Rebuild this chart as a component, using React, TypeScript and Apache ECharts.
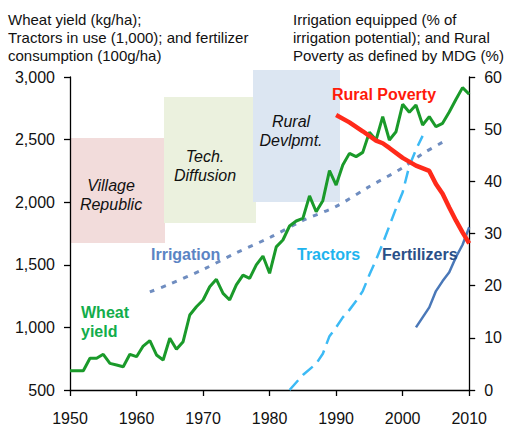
import React, { useEffect, useRef } from "react";
import * as echarts from "echarts";

const wheatYears = [1950,1951,1952,1953,1954,1955,1956,1957,1958,1959,1960,1961,1962,1963,1964,1965,1966,1967,1968,1969,1970,1971,1972,1973,1974,1975,1976,1977,1978,1979,1980,1981,1982,1983,1984,1985,1986,1987,1988,1989,1990,1991,1992,1993,1994,1995,1996,1997,1998,1999,2000,2001,2002,2003,2004,2005,2006,2007,2008,2009,2010];
const wheatYield = [654,654,654,753,753,785,713,700,686,785,766,851,894,780,740,913,825,886,1099,1165,1219,1325,1384,1272,1219,1339,1418,1392,1500,1570,1432,1643,1698,1810,1850,1871,2050,1924,2012,2252,2137,2297,2390,2364,2398,2558,2497,2684,2497,2563,2782,2718,2776,2617,2684,2603,2630,2720,2820,2915,2862];

const irrigationYears = [1962,1965,1970,1975,1980,1985,1990,1995,2000,2003,2006];
const irrigationPct = [18.8,20.3,23.1,26.3,29.2,32.5,35.2,39.0,42.6,45.3,47.5];

const tractorYears = [1983,1985,1987,1988,1989,1990,1991,1992,1993,1994,1995,1996,1997,1998,1999,2000,2001,2002,2003];
const tractorsInUse = [500,620,710,790,930,1000,1080,1140,1210,1290,1420,1540,1670,1810,1950,2080,2290,2420,2530];

const fertYears = [2002,2003,2004,2005,2006,2007,2008,2009,2010];
const fertConsumption = [1000,1080,1160,1290,1370,1440,1560,1660,1800];

const povertyYears = [1990,1992,1994,1996,1997,1998,2000,2002,2004,2005,2006,2007,2008,2009,2010];
const ruralPoverty = [52.7,51.3,49.6,47.8,47.3,46.4,44.5,43.0,42.0,39.5,37.6,35.0,32.5,30.2,28.1];

const pairs = (xs: number[], ys: number[]) => xs.map((x, i) => [x, ys[i]]);

const FONT = "Liberation Sans, Arial, sans-serif";

export default function App() {
  const ref = useRef<HTMLDivElement>(null);
  useEffect(() => {
    if (!ref.current) return;
    const chart = echarts.init(ref.current, null, { renderer: "svg" });
    const boxText = (x: number, y: number, lines: string) => ({
      type: "text", x, y, z: 1,
      style: { text: lines, font: `italic 16px ${FONT}`, fill: "#111", align: "center", verticalAlign: "middle", lineHeight: 19 },
    });
    const label = (x: number, y: number, text: string, color: string, size = 16, lh = 19) => ({
      type: "text", x, y, z: 5,
      style: { text, font: `bold ${size}px ${FONT}`, fill: color, align: "left", verticalAlign: "middle", lineHeight: lh },
    });
    chart.setOption({
      animation: false,
      textStyle: { fontFamily: FONT },
      grid: { left: 70, right: 32, top: 77, bottom: 43 },
      xAxis: {
        type: "value", min: 1950, max: 2010, interval: 10,
        axisLine: { show: true, lineStyle: { color: "#000", width: 1.3 } },
        axisTick: { show: true, length: 6, lineStyle: { color: "#000", width: 1.3 } },
        axisLabel: { margin: 20, fontSize: 16, color: "#111", formatter: (v: number) => String(v) },
        splitLine: { show: false },
      },
      yAxis: [
        {
          type: "value", min: 500, max: 3000, interval: 500, position: "left",
          axisLine: { show: true, lineStyle: { color: "#000", width: 1.3 } },
          axisTick: { show: true, length: 6, lineStyle: { color: "#000", width: 1.3 } },
          axisLabel: { margin: 15, fontSize: 16, color: "#111", formatter: (v: number) => v.toLocaleString("en-US") },
          splitLine: { show: false },
        },
        {
          type: "value", min: 0, max: 60, interval: 10, position: "right",
          axisLine: { show: true, lineStyle: { color: "#000", width: 1.3 } },
          axisTick: { show: true, length: 6, lineStyle: { color: "#000", width: 1.3 } },
          axisLabel: { margin: 15, fontSize: 16, color: "#111" },
          splitLine: { show: false },
        },
      ],
      graphic: [
        { type: "rect", z: 0, shape: { x: 71, y: 138, width: 94, height: 105 }, style: { fill: "#f2dcdb" } },
        { type: "rect", z: 0, shape: { x: 164, y: 97, width: 92, height: 126 }, style: { fill: "#ebf1de" } },
        { type: "rect", z: 0, shape: { x: 253, y: 70, width: 87, height: 132 }, style: { fill: "#dce6f2" } },
        boxText(111, 195, "Village\nRepublic"),
        boxText(205, 166, "Tech.\nDiffusion"),
        boxText(291, 131, "Rural\nDevlpmt."),
        {
          type: "text", x: 8, y: 10, z: 5,
          style: { text: "Wheat yield (kg/ha);\nTractors in use (1,000); and fertilizer\nconsumption (100g/ha)", font: `15px ${FONT}`, fill: "#111", lineHeight: 18, align: "left", verticalAlign: "top" },
        },
        {
          type: "text", x: 293, y: 10, z: 5,
          style: { text: "Irrigation equipped (% of\nirrigation potential); and Rural\nPoverty as defined by MDG (%)", font: `15px ${FONT}`, fill: "#111", lineHeight: 18, align: "left", verticalAlign: "top" },
        },
        label(332, 94, "Rural Poverty", "#ff1a0a"),
        label(151, 254, "Irrigation", "#5b84c4"),
        label(297, 254, "Tractors", "#1fb4ee"),
        label(382, 254, "Fertilizers", "#2a5088"),
        label(81, 322, "Wheat\nyield", "#12ad4b", 16, 19),
      ],
      series: [
        {
          name: "Irrigation", type: "line", yAxisIndex: 1, data: pairs(irrigationYears, irrigationPct),
          showSymbol: false, smooth: 0.3, z: 3,
          lineStyle: { color: "#6f8dc0", width: 3, type: [5, 7] },
        },
        {
          name: "Tractors", type: "line", yAxisIndex: 0, data: pairs(tractorYears, tractorsInUse),
          showSymbol: false, z: 3,
          lineStyle: { color: "#3cbaf5", width: 2.5, type: [13, 7] },
        },
        {
          name: "Fertilizers", type: "line", yAxisIndex: 0, data: pairs(fertYears, fertConsumption),
          showSymbol: false, z: 3,
          lineStyle: { color: "#4a78b8", width: 2.5 },
        },
        {
          name: "Wheat yield", type: "line", yAxisIndex: 0, data: pairs(wheatYears, wheatYield),
          showSymbol: false, z: 4,
          lineStyle: { color: "#1a9a2a", width: 3 },
        },
        {
          name: "Rural Poverty", type: "line", yAxisIndex: 1, data: pairs(povertyYears, ruralPoverty),
          showSymbol: false, z: 4,
          lineStyle: { color: "#ff2a1a", width: 4.5 },
        },
      ],
    });
    return () => chart.dispose();
  }, []);
  return <div ref={ref} style={{ position: "fixed", left: 0, top: 0, width: 505, height: 433, background: "#fff" }} />;
}
